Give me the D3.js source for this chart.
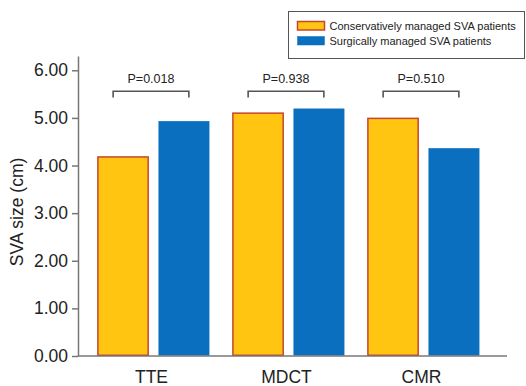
<!DOCTYPE html>
<html>
<head>
<meta charset="utf-8">
<script src="https://cdn.jsdelivr.net/npm/d3@7/dist/d3.min.js"></script>
<style>
  html, body { margin: 0; padding: 0; background: #fff; }
  svg { display: block; font-family: "Liberation Sans", Arial, Helvetica, sans-serif; }
</style>
</head>
<body>
<svg id="chart" width="526" height="386"></svg>
<script>
// Imaging modalities and mean SVA size per patient group
const categories = ["TTE", "MDCT", "CMR"];
const seriesNames = ["Conservatively managed SVA patients", "Surgically managed SVA patients"];
const conservative = [4.18, 5.10, 4.99];
const surgical = [4.93, 5.19, 4.36];
const pValues = ["P=0.018", "P=0.938", "P=0.510"];
const yTicks = [0, 1, 2, 3, 4, 5, 6];

const fills = ["#FFC510", "#0B6FBF"];
const strokes = ["#C8452E", "#0B6FBF"];

const svg = d3.select("#chart");

const x0 = d3.scaleBand().domain(categories).range([86, 491])
  .paddingInner(0.165).paddingOuter(0.0825);
const x1 = d3.scaleBand().domain([0, 1]).range([0, x0.bandwidth()]).paddingInner(0.15);
const y = d3.scaleLinear().domain([0, 6.3]).range([356, 56]);

// Bars
const series = [conservative, surgical];
const groups = svg.append("g").selectAll("g").data(categories).join("g")
  .attr("transform", d => `translate(${x0(d)},0)`);
groups.selectAll("rect")
  .data((d, i) => series.map((s, k) => ({ k, v: s[i] })))
  .join("rect")
  .attr("x", d => x1(d.k) + 0.75)
  .attr("width", x1.bandwidth() - 1.5)
  .attr("y", d => y(d.v))
  .attr("height", d => y(0) - y(d.v) - 0.75)
  .attr("fill", d => fills[d.k])
  .attr("stroke", d => strokes[d.k])
  .attr("stroke-width", d => d.k === 0 ? 1.5 : 0.5);

// Significance brackets
const bracketTop = y(5.56), bracketLeg = y(5.43);
categories.forEach((c, i) => {
  const a = x0(c) + 16, b = x0(c) + x0.bandwidth() - 21;
  svg.append("path")
    .attr("d", `M${a},${bracketLeg}V${bracketTop}H${b}V${bracketLeg}`)
    .attr("fill", "none").attr("stroke", "#555").attr("stroke-width", 1.6);
  svg.append("text")
    .attr("x", (a + b) / 2).attr("y", bracketTop - 8.5)
    .attr("text-anchor", "middle").attr("font-size", 12.5).attr("fill", "#222")
    .text(pValues[i]);
});

// Y axis
const yAxis = svg.append("g").attr("transform", "translate(78,0)")
  .call(d3.axisLeft(y).tickValues(yTicks).tickFormat(d3.format(".2f"))
    .tickSize(6).tickPadding(4).tickSizeOuter(0));
yAxis.select(".domain").attr("stroke", "#777").attr("stroke-width", 1.5);
yAxis.selectAll(".tick line").attr("stroke", "#777").attr("stroke-width", 1.5);
yAxis.selectAll(".tick text").attr("font-size", 17.5).attr("fill", "#222")
  .attr("font-family", "'Liberation Sans', Arial, sans-serif");

// X axis baseline
svg.append("line").attr("x1", 78).attr("x2", 507)
  .attr("y1", y(0)).attr("y2", y(0))
  .attr("stroke", "#777").attr("stroke-width", 1.5);

// Category labels
svg.append("g").selectAll("text").data(categories).join("text")
  .attr("x", d => x0(d) + x0.bandwidth() / 2 - 2)
  .attr("y", 383)
  .attr("text-anchor", "middle").attr("font-size", 17.5).attr("fill", "#222")
  .text(d => d);

// Y axis title
svg.append("text")
  .attr("transform", "translate(23,212) rotate(-90)")
  .attr("text-anchor", "middle").attr("font-size", 17.5).attr("fill", "#222")
  .text("SVA size (cm)");

// Legend
const legend = svg.append("g");
legend.append("rect").attr("x", 288.5).attr("y", 11.5).attr("width", 236).attr("height", 47)
  .attr("fill", "#fff").attr("stroke", "#555").attr("stroke-width", 1);
seriesNames.forEach((name, k) => {
  legend.append("rect")
    .attr("x", 297.5).attr("y", 21.5 + k * 15).attr("width", 27).attr("height", 8.5)
    .attr("fill", fills[k]).attr("stroke", strokes[k]).attr("stroke-width", k === 0 ? 1.5 : 0.5);
  legend.append("text")
    .attr("x", 329.5).attr("y", 29.5 + k * 15)
    .attr("font-size", 11).attr("fill", "#222")
    .text(name);
});
</script>
</body>
</html>
